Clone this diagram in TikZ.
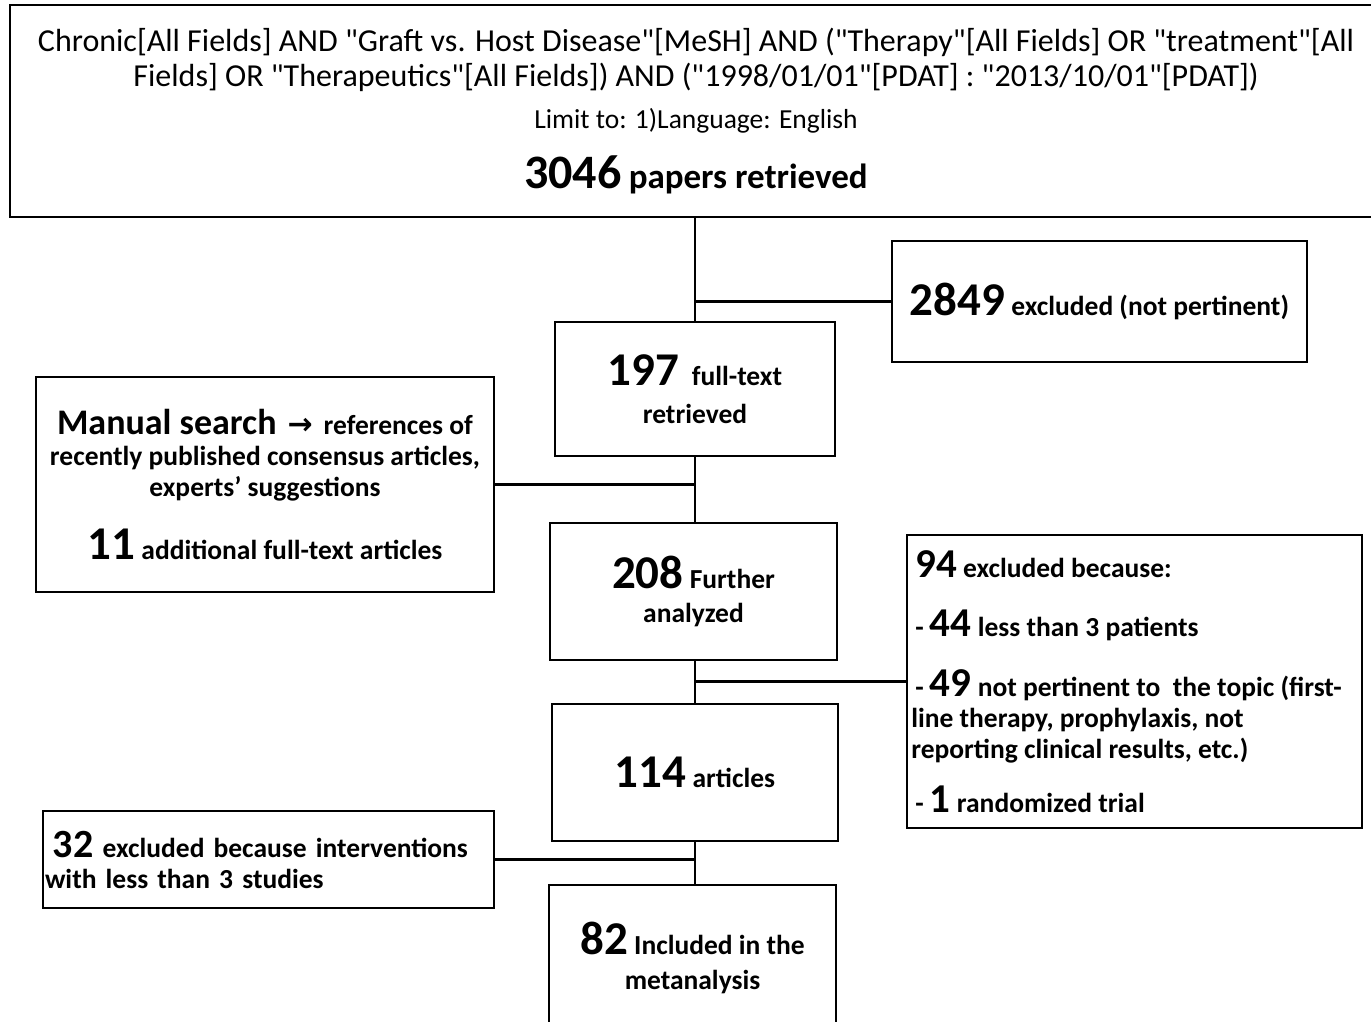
\documentclass[tikz,border=0pt]{standalone}
\usepackage{fontspec}
\setmainfont{Carlito}[Ligatures=TeXOff]
\newfontfamily\arrowfont{DejaVu Sans}

\newcommand\bignum[1]{{\fontsize{47}{47}\selectfont\bfseries #1}}
\newcommand\midnum[1]{{\fontsize{41}{41}\selectfont\bfseries #1}}
\newcommand\lbl{\fontsize{27.5}{31}\selectfont\bfseries}

\tikzset{
  box/.style={draw, line width=2.5pt, inner sep=0pt, align=center, font=\lbl},
  link/.style={line width=2.5pt}
}

\begin{document}
\begin{tikzpicture}[x=1pt, y=-1pt]
\clip (0,0) rectangle (1371,1021);

\node[box, minimum width=1372, minimum height=212, font=\fontsize{32}{35}\selectfont] (search) at (696,111)
  {Chronic[All Fields] AND "Graft vs. Host Disease"[MeSH] AND ("Therapy"[All Fields] OR "treatment"[All\\
   Fields] OR "Therapeutics"[All Fields]) AND ("1998/01/01"[PDAT] : "2013/10/01"[PDAT])\\[7pt]
   {\fontsize{27.5}{30}\selectfont Limit to: 1)Language: English}\\[22pt]
   {\fontsize{48}{48}\selectfont\bfseries 3046} {\fontsize{35}{35}\selectfont\bfseries papers retrieved}};

\node[box, minimum width=415, minimum height=121] (notpert) at (1099.5,301.5)
  {\bignum{2849} excluded (not pertinent)};

\node[box, minimum width=280, minimum height=134] (fulltext) at (695,389)
  {\bignum{197}\ \ full-text\\[7pt] retrieved};

\node[box, minimum width=458, minimum height=215] (manual) at (265,484.5)
  {{\fontsize{36}{36}\selectfont\bfseries Manual search}\hspace{11pt}{\arrowfont\fontsize{30}{30}\selectfont →}\hspace{11pt}references of\\
   recently published consensus articles,\\
   experts’ suggestions\\[26pt]
   \bignum{11}\ additional full-text articles};

\node[box, minimum width=287, minimum height=137] (further) at (693.5,591.5)
  {\bignum{208} Further\\[3pt] analyzed};

\node[box, minimum width=455, minimum height=293, align=left] (reasons) at (1134.5,681.5)
  {\hspace*{4pt}\midnum{94} excluded because:\\[28pt]
   \hspace*{4pt}- \midnum{44} less than 3 patients\\[28pt]
   \hspace*{4pt}- \midnum{49} not pertinent to\ \ the topic (first-\rule{16pt}{0pt}\\
   line therapy, prophylaxis, not\\
   reporting clinical results, etc.)\\[22pt]
   \hspace*{4pt}- \midnum{1} randomized trial};

\node[box, minimum width=286, minimum height=137] (articles) at (695,772.5)
  {\bignum{114}\ articles};

\node[box, minimum width=451, minimum height=97, text width=447, inner xsep=2pt, align=left] (fewstudies) at (268.5,859.5)
  {\hspace*{8pt}{\fontsize{40}{40}\selectfont\bfseries 32} excluded because interventions\\
   with less than 3 studies};

\node[box, minimum width=287, minimum height=145] (included) at (692.5,957.5)
  {\bignum{82}\ Included in the\\[4pt] metanalysis};

% connectors
\draw[link] (search.south -| fulltext.north) -- (fulltext.north);
\draw[link] (notpert.west) -- (notpert.west -| fulltext.north);
\draw[link] (fulltext.south) -- (fulltext.south |- further.north);
\draw[link] (manual.east) -- (manual.east -| fulltext.south);
\draw[link] (further.south -| articles.north) -- (articles.north);
\draw[link] (reasons.west) -- (reasons.west -| articles.north);
\draw[link] (articles.south) -- (articles.south |- included.north);
\draw[link] (fewstudies.east) -- (fewstudies.east -| articles.south);
\end{tikzpicture}
\end{document}
